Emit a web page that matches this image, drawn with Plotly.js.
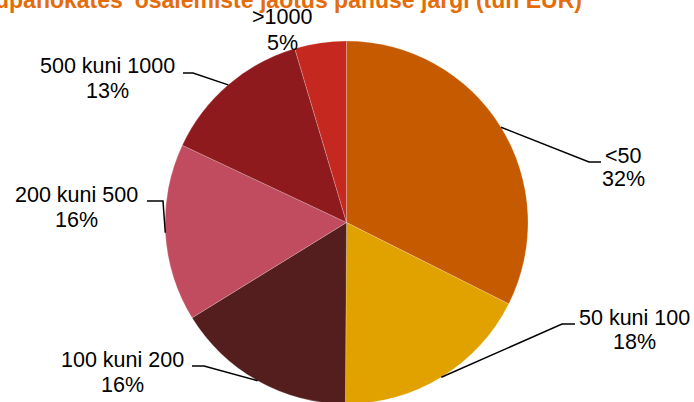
<!DOCTYPE html>
<html>
<head>
<meta charset="utf-8">
<script src="https://cdn.plot.ly/plotly-3.0.1.min.js"></script>
<style>
html,body{margin:0;padding:0;overflow:hidden;background:#fff;}
#chart{width:694px;height:420px;}
</style>
</head>
<body>
<div id="chart"></div>
<script>
// ---- data ----
const categories = ['<50', '50 kuni 100', '100 kuni 200', '200 kuni 500', '500 kuni 1000', '>1000'];
const shares = [32.4, 17.7, 16.1, 15.8, 13.4, 4.6];
const sliceColors = ['#C55A00', '#E1A200', '#541E1E', '#C14B5F', '#8E1A1D', '#C4281E'];
const titleText = "Hoiupanokates' osalemiste jaotus panuse järgi (tuh EUR)";

// ---- layout constants (pixels) ----
const W = 694, H = 420;
const CX = 346.5, CY = 222.5, R = 181.5;
// label placement: text centre (line 1, line 2), elbow segment
const labelPos = [
  {x: 623, y1: 156, y2: 179, elbow: [[589, 162], [601, 162]]},
  {x: 634, y1: 318, y2: 342, elbow: [[562, 324], [575, 324]]},
  {x: 122, y1: 360, y2: 385, elbow: [[204, 366], [192, 366]]},
  {x: 76,  y1: 195, y2: 220, elbow: [[163, 201], [147, 201]]},
  {x: 107, y1: 66,  y2: 91,  elbow: [[193, 73], [183, 73]]},
  {x: 282, y1: 17,  y2: 43,  elbow: null}
];

const px = x => x / W;
const py = y => 1 - y / H;

const total = shares.reduce((a, b) => a + b, 0);
const font = {family: 'Liberation Sans, Arial, sans-serif', size: 21.5, color: '#000'};

const annotations = [];
const shapes = [];
let cum = 0;
shares.forEach((v, i) => {
  const mid = (cum + v / 2) / total * 2 * Math.PI;
  cum += v;
  const lp = labelPos[i];
  const pct = Math.round(v / total * 100) + '%';
  annotations.push({xref: 'paper', yref: 'paper', x: px(lp.x), y: py(lp.y1), text: categories[i],
    showarrow: false, xanchor: 'center', yanchor: 'middle', font: font});
  annotations.push({xref: 'paper', yref: 'paper', x: px(lp.x), y: py(lp.y2), text: pct,
    showarrow: false, xanchor: 'center', yanchor: 'middle', font: font});
  if (lp.elbow) {
    const ex = CX + R * Math.sin(mid);
    const ey = CY - R * Math.cos(mid);
    const pts = [[ex, ey], lp.elbow[0], lp.elbow[1]];
    const path = pts.map((p, k) => (k ? 'L' : 'M') + px(p[0]).toFixed(5) + ',' + py(p[1]).toFixed(5)).join(' ');
    shapes.push({type: 'path', xref: 'paper', yref: 'paper', path: path,
      line: {color: '#000', width: 1.5}});
  }
});

const trace = {
  type: 'pie',
  labels: categories,
  values: shares,
  sort: false,
  direction: 'clockwise',
  rotation: 0,
  textinfo: 'none',
  hoverinfo: 'label+percent',
  marker: {colors: sliceColors, line: {color: 'rgba(255,255,255,0.35)', width: 0.6}},
  domain: {x: [px(CX - R), px(CX + R)], y: [py(CY + R), py(CY - R)]},
  showlegend: false
};

const layout = {
  width: W, height: H,
  margin: {l: 0, r: 0, t: 0, b: 0},
  paper_bgcolor: '#fff',
  plot_bgcolor: '#fff',
  showlegend: false,
  title: {
    text: '<b>' + titleText + '</b>',
    font: {family: 'Liberation Sans, Arial, sans-serif', size: 23, color: '#E46C0A'},
    xref: 'container', yref: 'container',
    x: 582 / W, xanchor: 'right',
    y: 1 + 4 / H, yanchor: 'middle'
  },
  annotations: annotations,
  shapes: shapes
};

Plotly.newPlot('chart', [trace], layout, {displayModeBar: false, staticPlot: true});
</script>
</body>
</html>
